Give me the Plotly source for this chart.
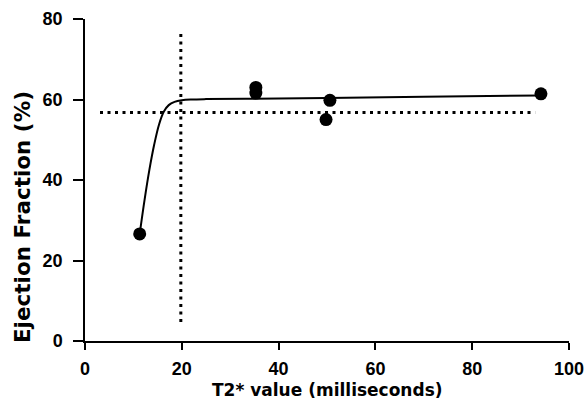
import plotly.graph_objects as go

# Observed data points
pts_x = [11.3, 35.3, 35.3, 49.8, 50.6, 94.2]
pts_y = [26.6, 63.0, 61.6, 55.0, 59.8, 61.4]

# Fitted curve
fit_x = [11.3, 12.3, 13.3, 14.3, 15.3, 16.3, 17.3, 18.5, 20.0, 22.0, 25.0, 35.0, 50.0, 70.0, 94.0]
fit_y = [26.6, 35.0, 42.5, 48.8, 53.8, 57.0, 58.6, 59.4, 59.8, 60.0, 60.1, 60.2, 60.4, 60.7, 61.0]

# Threshold reference lines
vline_x = [19.8, 19.8]
vline_y = [4.7, 76.9]
hline_x = [3.1, 93.0]
hline_y = [56.8, 56.8]

x_ticks = [0, 20, 40, 60, 80, 100]
y_ticks = [0, 20, 40, 60, 80]

x_title = "T2* value (milliseconds)"
y_title = "Ejection Fraction (%)"

fig = go.Figure()
dots = "3px,4.5px"
fig.add_trace(go.Scatter(x=vline_x, y=vline_y, mode="lines",
                         line=dict(color="black", width=3, dash=dots), hoverinfo="skip"))
fig.add_trace(go.Scatter(x=hline_x, y=hline_y, mode="lines",
                         line=dict(color="black", width=3, dash=dots), hoverinfo="skip"))
fig.add_trace(go.Scatter(x=fit_x, y=fit_y, mode="lines",
                         line=dict(color="black", width=2, shape="spline"), hoverinfo="skip"))
fig.add_trace(go.Scatter(x=pts_x, y=pts_y, mode="markers",
                         marker=dict(color="black", size=13)))

font = "Liberation Sans, Arial, sans-serif"
tfont = "DejaVu Sans, sans-serif"
fig.update_layout(
    width=585, height=399,
    margin=dict(l=85, r=16, t=19, b=58),
    paper_bgcolor="white", plot_bgcolor="white",
    showlegend=False,
    font=dict(family=font, color="black"),
    xaxis=dict(range=[0, 100], tickvals=x_ticks, ticks="outside", ticklen=7, tickwidth=1.5,
               tickcolor="black", showline=True, linecolor="black", linewidth=1.5,
               showgrid=False, zeroline=False, automargin=False, ticklabelstandoff=4,
               tickfont=dict(size=18, family=font, weight="bold")),
    yaxis=dict(range=[0, 80], tickvals=y_ticks, ticks="outside", ticklen=10, tickwidth=1.5,
               tickcolor="black", showline=True, linecolor="black", linewidth=1.5,
               showgrid=False, zeroline=False, automargin=False, ticklabelstandoff=7,
               tickfont=dict(size=18, family=font, weight="bold")),
    annotations=[
        dict(text="<b>" + x_title + "</b>", xref="paper", yref="paper", x=0.502, y=-0.152,
             xanchor="center", yanchor="middle", showarrow=False,
             font=dict(family=tfont, size=17, color="black")),
        dict(text="<b>" + y_title + "</b>", xref="paper", yref="paper", x=-0.13, y=0.385,
             xanchor="center", yanchor="middle", showarrow=False, textangle=-90,
             font=dict(family=tfont, size=21.5, color="black")),
    ],
)
fig.write_html("out.html", config={"displayModeBar": False},
               post_script="document.body.style.margin='0';")
